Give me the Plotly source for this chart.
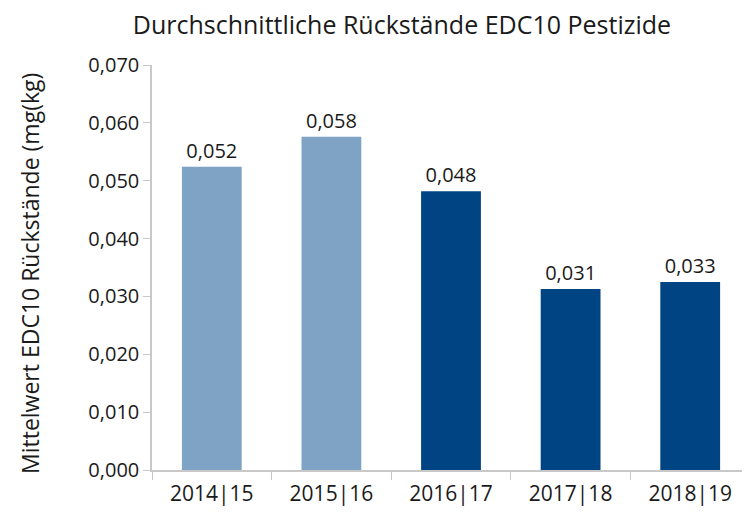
import plotly.graph_objects as go

# Season labels and mean residues (mg/kg)
seasons = ["2014|15", "2015|16", "2016|17", "2017|18", "2018|19"]
mean_residue = [0.0524, 0.0576, 0.0482, 0.0313, 0.0325]
bar_colors = ["#7fa3c4", "#7fa3c4", "#004483", "#004483", "#004483"]

title_text = "Durchschnittliche Rückstände EDC10 Pestizide"
y_title = "Mittelwert EDC10 Rückstände (mg(kg)"

font_family = "'Open Sans', sans-serif"
axis_gray = "#c8c8c8"
text_color = "#1a1a1a"

fig = go.Figure(
    go.Bar(
        x=seasons,
        y=mean_residue,
        marker=dict(color=bar_colors, line=dict(width=0)),
        texttemplate="%{y:.3f}",
        textposition="outside",
        textfont=dict(size=20, color=text_color, family=font_family),
        cliponaxis=False,
        hoverinfo="skip",
    )
)

# the page body adds an 8px margin, so the figure is 8px smaller each way
fig.update_layout(
    width=742,
    height=505,
    margin=dict(l=144, r=0, t=57, b=43, autoexpand=False),
    plot_bgcolor="white",
    paper_bgcolor="white",
    separators=",.",
    bargap=0.5,
    showlegend=False,
    font=dict(family=font_family, size=20, color=text_color),
    title=dict(
        text=title_text,
        x=0.418, xref="paper", xanchor="center",
        y=0.966, yref="container", yanchor="middle",
        font=dict(size=25, color=text_color),
    ),
)

fig.update_xaxes(
    automargin=False,
    showline=True, linecolor=axis_gray, linewidth=1.5,
    ticks="outside", tickson="boundaries", ticklen=8, tickcolor=axis_gray,
    tickfont=dict(size=21),
    ticklabelstandoff=4,
    showgrid=False,
)

fig.update_yaxes(
    automargin=False,
    range=[0, 0.07], dtick=0.01, tickformat=".3f",
    showline=True, linecolor=axis_gray, linewidth=1.5,
    ticks="outside", ticklen=7, tickcolor=axis_gray,
    tickfont=dict(size=20),
    showgrid=False, zeroline=False,
)

fig.add_annotation(
    text=y_title, textangle=-90,
    x=-0.204, xref="paper", xanchor="center",
    y=0.484, yref="paper", yanchor="middle",
    showarrow=False, font=dict(size=23, color=text_color),
)

fig.write_html("out.html")
